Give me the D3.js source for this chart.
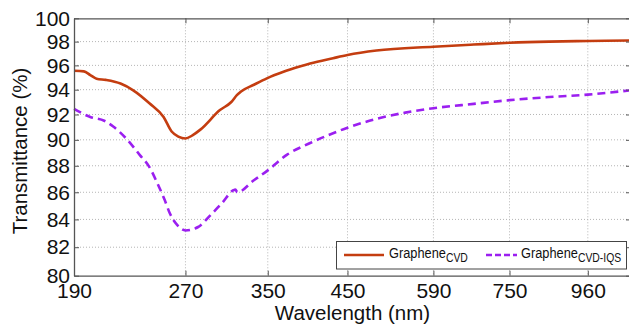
<!DOCTYPE html>
<html>
<head>
<meta charset="utf-8">
<script src="https://d3js.org/d3.v7.min.js"></script>
<style>
	html, body { margin: 0; padding: 0; background: #fff; }
	svg { display: block; font-family: "Liberation Sans", Arial, Helvetica, sans-serif; }
</style>
</head>
<body>
<svg id="chart" width="629" height="329"></svg>
<script>
// wavelength (nm) and transmittance (%)
const wlCvd = [190, 196, 200, 204, 210, 220, 229, 241, 252, 258.5, 264, 270, 276, 283, 301, 312, 317.5, 321.7, 335, 349, 367, 387, 400, 430, 450, 493, 590, 670, 750, 850, 960, 1100];
const tCvd = [95.55, 95.5, 95.2, 94.9, 94.8, 94.5, 93.95, 92.9, 91.8, 90.65, 90.25, 90.1, 90.35, 90.8, 92.35, 93.0, 93.55, 93.85, 94.4, 94.93, 95.45, 95.9, 96.15, 96.6, 96.87, 97.25, 97.57, 97.75, 97.9, 98.0, 98.05, 98.1];

const wlIqs = [190, 200, 209, 215, 224, 234, 241, 247, 253, 257, 263, 270, 281, 292, 303, 314, 316, 318, 335, 350, 372, 400, 425, 450, 493, 540, 590, 670, 750, 850, 960, 1100];
const tIqs = [92.45, 91.8, 91.5, 91.05, 90.1, 88.8, 87.9, 86.7, 85.4, 84.45, 83.6, 83.2, 83.45, 84.3, 85.2, 86.15, 86.2, 86.0, 86.9, 87.65, 88.85, 89.75, 90.4, 90.95, 91.65, 92.15, 92.5, 92.85, 93.15, 93.4, 93.6, 93.95];

const xTicks = [190, 270, 350, 450, 590, 750, 960];
const yTicks = [80, 82, 84, 86, 88, 90, 92, 94, 96, 98, 100];

const color = { cvd: "#c43d10", iqs: "#9b1ff0", axis: "#555", grid: "#b5b5b5" };

const svg = d3.select("#chart");
const mLeft = 74, mRight = 631, mTop = 18.3, mBottom = 275.7;

// both axes are logarithmic (log-log plot)
const x = d3.scaleLog().domain([190, 1100]).range([mLeft, mRight]);
const y = d3.scaleLog().domain([80, 100]).range([mBottom, mTop]);

// grid
const grid = svg.append("g").attr("class", "grid");
grid.selectAll("line.v")
	.data(xTicks.slice(1))
	.join("line")
	.attr("class", "v")
	.attr("x1", d => x(d)).attr("x2", d => x(d))
	.attr("y1", mTop).attr("y2", mBottom)
	.attr("stroke", color.grid).attr("stroke-dasharray", "1,2");
grid.selectAll("line.h")
	.data(yTicks.slice(1, -1))
	.join("line")
	.attr("class", "h")
	.attr("x1", mLeft).attr("x2", mRight)
	.attr("y1", d => y(d)).attr("y2", d => y(d))
	.attr("stroke", color.grid).attr("stroke-dasharray", "1,2");

// curves
const line = d3.line().x(d => x(d[0])).y(d => y(d[1])).curve(d3.curveMonotoneX);

svg.append("path")
	.datum(d3.zip(wlCvd, tCvd))
	.attr("d", line)
	.attr("fill", "none")
	.attr("stroke", color.cvd)
	.attr("stroke-width", 2.6);

svg.append("path")
	.datum(d3.zip(wlIqs, tIqs))
	.attr("d", line)
	.attr("fill", "none")
	.attr("stroke", color.iqs)
	.attr("stroke-width", 2.6)
	.attr("stroke-dasharray", "8,5");

// axes (MATLAB style: inward ticks on all four sides)
const xAxis = d3.axisBottom(x).tickValues(xTicks).tickFormat(d3.format("d")).tickSizeInner(-5).tickSizeOuter(0).tickPadding(7.5);
const yAxis = d3.axisLeft(y).tickValues(yTicks).tickFormat(d3.format("d")).tickSizeInner(-5).tickSizeOuter(0).tickPadding(4);

svg.append("g").attr("transform", `translate(0,${mBottom})`).call(xAxis);
svg.append("g").attr("transform", `translate(${mLeft},0)`).call(yAxis);
svg.append("g").attr("transform", `translate(0,${mTop})`)
	.call(d3.axisTop(x).tickValues(xTicks).tickFormat("").tickSizeInner(-5).tickSizeOuter(0));
svg.append("g").attr("transform", `translate(${mRight},0)`)
	.call(d3.axisRight(y).tickValues(yTicks).tickFormat("").tickSizeInner(-5).tickSizeOuter(0));

svg.selectAll(".domain").attr("stroke", color.axis).attr("stroke-width", 1.3);
svg.selectAll(".tick line").attr("stroke", color.axis);
svg.selectAll(".tick text")
	.attr("fill", "#111")
	.style("font-size", "21px")
	.style("font-family", "'Liberation Sans', Arial, sans-serif");

// axis titles
svg.append("text")
	.attr("x", (mLeft + mRight) / 2).attr("y", 320)
	.attr("text-anchor", "middle")
	.style("font-size", "20.5px")
	.attr("fill", "#111")
	.text("Wavelength (nm)");

svg.append("text")
	.attr("transform", `translate(26.5,${(mTop + mBottom) / 2 + 4}) rotate(-90)`)
	.attr("text-anchor", "middle")
	.style("font-size", "20.5px")
	.attr("fill", "#111")
	.text("Transmittance (%)");

// legend
const legend = svg.append("g");
legend.append("rect")
	.attr("x", 336.5).attr("y", 241.5).attr("width", 290).attr("height", 27.5)
	.attr("fill", "#fff").attr("stroke", "#444").attr("stroke-width", 1);

const legendItems = [
	{ name: "Graphene", sub: "CVD", color: color.cvd, dash: null, x0: 344, x1: 384, tx: 389 },
	{ name: "Graphene", sub: "CVD-IQS", color: color.iqs, dash: "6,3", x0: 486, x1: 517, tx: 521 }
];
legendItems.forEach(it => {
	legend.append("line")
		.attr("x1", it.x0).attr("x2", it.x1).attr("y1", 255).attr("y2", 255)
		.attr("stroke", it.color).attr("stroke-width", 2.6)
		.attr("stroke-dasharray", it.dash);
	// text is a bit taller than wide in the original, so stretch it vertically
	const t = legend.append("text")
		.attr("transform", `translate(${it.tx},258) scale(1,1.15)`)
		.style("font-size", "12.8px")
		.attr("fill", "#111");
	t.append("tspan").text(it.name);
	t.append("tspan").attr("dy", 3.8).style("font-size", "10.4px").text(it.sub);
});
</script>
</body>
</html>
